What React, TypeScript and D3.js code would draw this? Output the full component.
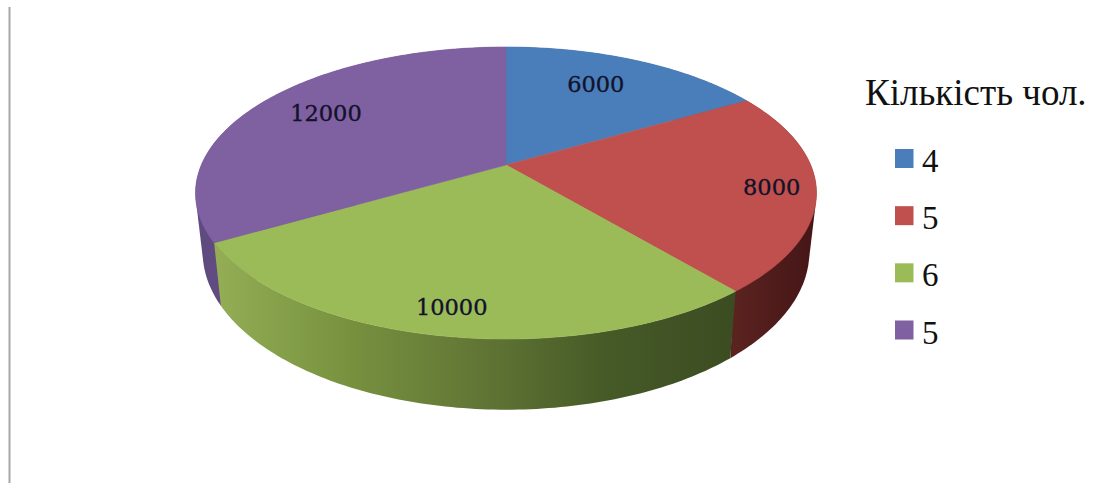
import React from "react";
import * as d3 from "d3";

const legendTitle = "Кількість чол.";
const categories = ["4", "5", "6", "5"];
const amounts = [6000, 8000, 10000, 12000];
const topColors = ["#4a7ebb", "#c0504d", "#9bbb59", "#7f60a1"];
const labelRadii = [0.73, 0.86, 0.86, 0.75];
const labelAngleShifts = [-3, 0, 0, 2];

// Side wall shading, left to right, per slice.
const wallStops = [
  ["#2d4a70", "#2d4a70"],
  ["#5a2320", "#4f1b1b", "#451616"],
  ["#93ae55", "#78923f", "#627735", "#465a27", "#3c4c22"],
  ["#5f4a7f", "#6a5190", "#5a447a"],
];
// Slices whose wall reaches the silhouette tangents are filled as a hull.
const hullWalls = [false, true, false, true];
// Walls are painted back to front; the front slice goes last.
const wallOrder = [0, 3, 1, 2];

const WIDTH = 1102;
const HEIGHT = 483;
const CX = 506;
const CY = 193;
const PLANE_X = 304.7;
const PLANE_Y = 146;
const TILT = 0.1918;
const APEX_SHIFT = -28;
const WALL_SCALE_X = 0.977;
const WALL_SCALE_Y = 1.08;
const WALL_DROP = 59;

// Perspective projection of a point on the unit disc to the top face.
function projectTop(x: number, y: number): [number, number] {
  const w = 1 - TILT * y;
  return [(PLANE_X * x) / w, (PLANE_Y * y + APEX_SHIFT) / w];
}

function rim(angle: number, radius = 1): [number, number] {
  const [u, v] = projectTop(radius * Math.sin(angle), -radius * Math.cos(angle));
  return [CX + u, CY + v];
}

function rimBottom(angle: number): [number, number] {
  const [u, v] = projectTop(Math.sin(angle), -Math.cos(angle));
  return [CX + u * WALL_SCALE_X, CY + v * WALL_SCALE_Y + WALL_DROP];
}

function arcSamples(a0: number, a1: number): number[] {
  const n = Math.max(8, Math.ceil((a1 - a0) * 60));
  return d3.range(n + 1).map((i) => a0 + ((a1 - a0) * i) / n);
}

const linePath = d3.line<[number, number]>();

export default function App() {
  const slices = d3.pie<number>().sort(null)(amounts);
  const legendY = d3
    .scalePoint<number>()
    .domain(d3.range(categories.length))
    .range([158.5, 330]);

  return (
    <svg
      width={WIDTH}
      height={HEIGHT}
      viewBox={`0 0 ${WIDTH} ${HEIGHT}`}
      style={{ position: "absolute", left: 0, top: 0, background: "#fff" }}
    >
      <defs>
        {wallStops.map((stops, i) => {
          const xs = arcSamples(slices[i].startAngle, slices[i].endAngle).map((a) => rim(a)[0]);
          return (
            <linearGradient
              key={i}
              id={`wall-${i}`}
              gradientUnits="userSpaceOnUse"
              x1={d3.min(xs)}
              x2={d3.max(xs)}
              y1={0}
              y2={0}
            >
              {stops.map((c, j) => (
                <stop key={j} offset={j / Math.max(1, stops.length - 1)} stopColor={c} />
              ))}
            </linearGradient>
          );
        })}
      </defs>

      <line x1={9.5} x2={9.5} y1={7} y2={HEIGHT} stroke="#a8a8a8" strokeWidth={2} />

      {/* Side walls go first so the top faces cover their hidden parts. */}
      {wallOrder.map((i) => {
        const s = slices[i];
        const angles = arcSamples(s.startAngle, s.endAngle);
        const outline = [...angles.map((a) => rim(a)), ...angles.slice().reverse().map((a) => rimBottom(a))];
        const shape = hullWalls[i] ? (d3.polygonHull(outline) as [number, number][]) : outline;
        return <path key={i} d={`${linePath(shape)}Z`} fill={`url(#wall-${i})`} />;
      })}

      {slices.map((s, i) => {
        const outline: [number, number][] = [
          rim(0, 0),
          ...arcSamples(s.startAngle, s.endAngle).map((a) => rim(a)),
        ];
        return (
          <path
            key={i}
            d={`${linePath(outline)}Z`}
            fill={topColors[i]}
            stroke={topColors[i]}
            strokeWidth={0.6}
            strokeLinejoin="round"
          />
        );
      })}

      {slices.map((s, i) => {
        const mid = (s.startAngle + s.endAngle) / 2 + (labelAngleShifts[i] * Math.PI) / 180;
        const [x, y] = rim(mid, labelRadii[i]);
        return (
          <text
            key={i}
            x={x}
            y={y}
            textAnchor="middle"
            dominantBaseline="central"
            fontFamily="'DejaVu Serif', serif"
            fontSize={22.5}
            fill="#12122a"
            stroke="#12122a"
            strokeWidth={0.35}
          >
            {s.data}
          </text>
        );
      })}

      <text x={865} y={105} fontFamily="'Liberation Serif', serif" fontSize={37} fill="#111">
        {legendTitle}
      </text>

      {categories.map((c, i) => {
        const y = legendY(i) as number;
        return (
          <g key={i}>
            <rect x={895} y={y - 9.5} width={18.5} height={19} fill={topColors[i]} />
            <text x={922} y={y + 13.5} fontFamily="'Liberation Serif', serif" fontSize={33} fill="#111">
              {c}
            </text>
          </g>
        );
      })}
    </svg>
  );
}
